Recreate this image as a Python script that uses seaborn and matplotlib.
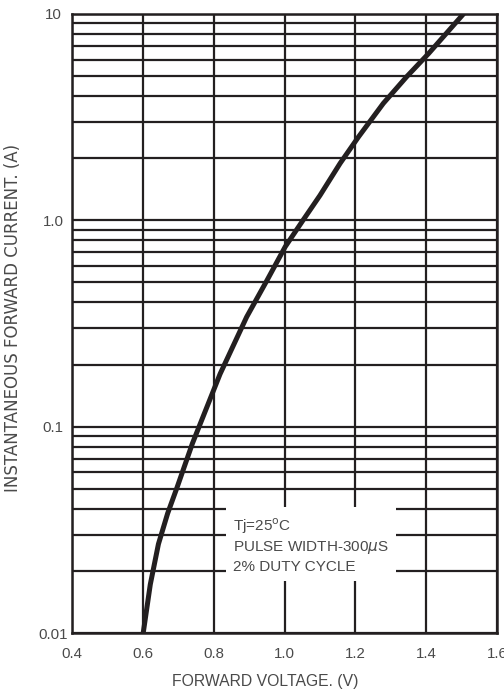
import numpy as np
import pandas as pd
import seaborn as sns
import matplotlib.pyplot as plt
from matplotlib.ticker import LogLocator, FixedLocator, NullFormatter

# curva (tension directa vs corriente instantanea)
voltaje = [0.601, 0.621, 0.644, 0.670, 0.697, 0.740, 0.818, 0.893, 0.950,
           1.002, 1.052, 1.100, 1.157, 1.209, 1.279, 1.345, 1.407, 1.505]
corriente = [0.010, 0.0172, 0.027, 0.038, 0.051, 0.083, 0.18, 0.34, 0.51,
             0.745, 1.0, 1.32, 1.89, 2.54, 3.69, 4.97, 6.44, 10.0]

x_ticks = [0.4, 0.6, 0.8, 1.0, 1.2, 1.4, 1.6]
x_labels = ["0.4", "0.6", "0.8", "1.0", "1.2", "1.4", "1.6"]
y_ticks = [0.01, 0.1, 1.0, 10.0]
y_labels = ["0.01", "0.1", "1.0", "10"]

nota = "Tj=25$^{\\rm o}$C\nPULSE WIDTH-300$\\mu$S\n2% DUTY CYCLE"

df = pd.DataFrame({"V": voltaje, "I": corriente})

sns.set_theme(style="white")
plt.rcParams['font.family'] = ['Liberation Sans', 'DejaVu Sans']

oscuro = "#231f20"
gris = "#4a4a4a"

fig = plt.figure(figsize=(5.04, 6.96), dpi=100)
ax = fig.add_axes([0.1429, 0.0905, 0.8433, 0.8894])

ax.set_yscale("log")
ax.set_xlim(0.4, 1.6)
ax.set_ylim(0.01, 10)

# rejilla: lineas verticales en los ticks y horizontales en 1..9 de cada decada
ax.xaxis.set_major_locator(FixedLocator(x_ticks))
ax.xaxis.set_major_formatter(plt.FixedFormatter(x_labels))
ax.yaxis.set_major_locator(FixedLocator(y_ticks))
ax.yaxis.set_major_formatter(plt.FixedFormatter(y_labels))
ax.yaxis.set_minor_locator(LogLocator(base=10, subs=np.arange(2, 10)))
ax.yaxis.set_minor_formatter(NullFormatter())
ax.grid(True, which="both", axis="y", color=oscuro, linewidth=1.6)
ax.grid(True, which="major", axis="x", color=oscuro, linewidth=1.6)
ax.set_axisbelow(True)

sns.lineplot(data=df, x="V", y="I", ax=ax, color=oscuro, linewidth=3.6,
             zorder=3)
ax.lines[-1].set_solid_joinstyle("round")

for s in ax.spines.values():
    s.set_color(oscuro)
    s.set_linewidth(1.8)
    s.set_visible(True)

ax.tick_params(which="both", length=0)
ax.tick_params(axis="x", pad=10, labelsize=10.8, labelcolor=gris)
ax.tick_params(axis="y", pad=13.5, labelsize=10.8, labelcolor=gris)
for t in ax.get_yticklabels():
    t.set_horizontalalignment("center")

ax.set_xlabel("FORWARD VOLTAGE. (V)", fontsize=11.3, color=gris)
ax.xaxis.set_label_coords(0.455, -0.067)
ax.set_ylabel("INSTANTANEOUS FORWARD CURRENT. (A)", fontsize=12,
              color=gris, family="DejaVu Sans")
ax.yaxis.set_label_coords(-0.118, 0.509)

# cuadro de condiciones de ensayo
ax.text(0.855, 0.0267, nota, fontsize=11, color=gris, ha="left",
        va="center", linespacing=1.3, zorder=4,
        bbox=dict(facecolor="white", edgecolor="none", pad=5))

fig.savefig("out.png", dpi=100)
